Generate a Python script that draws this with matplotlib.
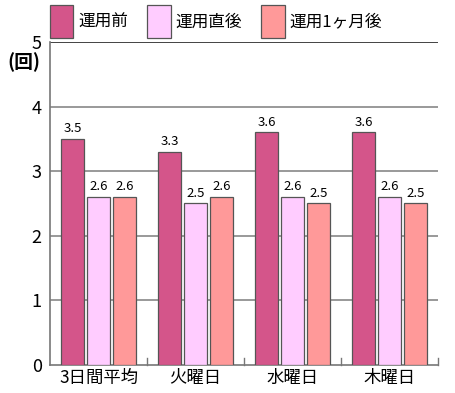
import matplotlib.pyplot as plt
import numpy as np

plt.rcParams['font.family'] = ['Noto Sans CJK JP', 'DejaVu Sans']

# データ
categories = ['3日間平均', '火曜日', '水曜日', '木曜日']
series_names = ['運用前', '運用直後', '運用1ヶ月後']
before = [3.5, 3.3, 3.6, 3.6]
just_after = [2.6, 2.5, 2.6, 2.6]
month_after = [2.6, 2.6, 2.5, 2.5]
colors = ['#D4558A', '#FFCCFF', '#FF9999']

values = [before, just_after, month_after]

fig = plt.figure(figsize=(4.55, 3.93), dpi=100)
ax = fig.add_axes([0.110, 0.0712, 0.853, 0.822])

x = np.arange(len(categories))
offsets = [-0.268, 0.0, 0.268]
width = 0.24

for vals, off, col, name in zip(values, offsets, colors, series_names):
    bars = ax.bar(x + off, vals, width, color=col, edgecolor='#555555',
                  linewidth=0.9, label=name, zorder=3)
    for b, v in zip(bars, vals):
        ax.text(b.get_x() + b.get_width() / 2, v + 0.06, f'{v:.1f}',
                ha='center', va='bottom', fontsize=9.5, zorder=4)

ax.set_xlim(-0.5, 3.5)
ax.set_ylim(0, 5)
ax.set_yticks([0, 1, 2, 3, 4, 5])
ax.tick_params(axis='y', length=0, labelsize=13, pad=6)
ax.set_xticks(x)
ax.set_xticklabels(categories, fontsize=12.5)
ax.tick_params(axis='x', length=0, pad=3)

# カテゴリ境界の目盛り
for bx in [0.5, 1.5, 2.5, 3.5]:
    ax.plot([bx, bx], [0, 0.11], color='#777777', lw=1, zorder=2, clip_on=False)

for gy in [1, 2, 3, 4]:
    ax.axhline(gy, color='#888888', lw=1.2, zorder=1)
ax.axhline(5, color='#222222', lw=1.2, zorder=1)

for s in ['top', 'right']:
    ax.spines[s].set_visible(False)
for s in ['left', 'bottom']:
    ax.spines[s].set_color('#777777')
    ax.spines[s].set_linewidth(1.2)

fig.text(0.052, 0.842, '(回)', fontsize=13.5, ha='center', va='center', weight='bold')

ax.legend(loc='lower left', bbox_to_anchor=(0.0, 1.012), ncol=3, frameon=False,
          handlelength=1.4, handleheight=2.7, handletextpad=0.3,
          columnspacing=1.15, fontsize=12, borderaxespad=0, borderpad=0)

fig.savefig('out.png', dpi=100)
